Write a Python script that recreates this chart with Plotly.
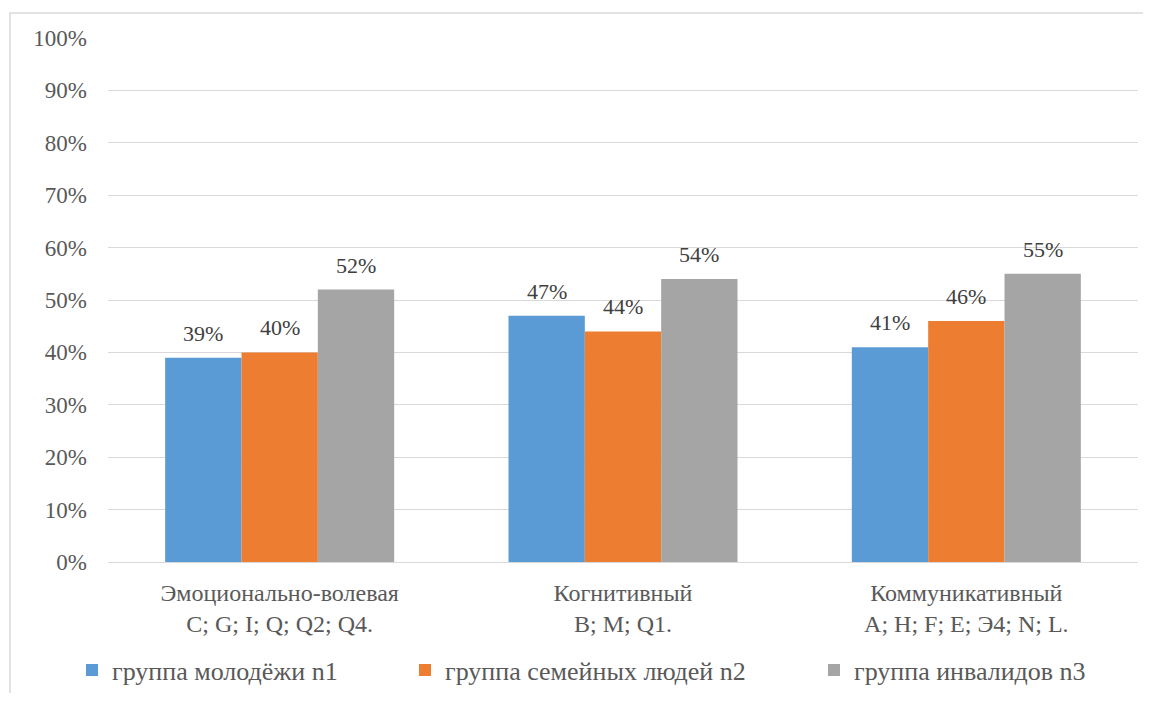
import plotly.graph_objects as go

categories = ["Эмоционально-волевая<br>C; G; I; Q; Q2; Q4.",
              "Когнитивный<br>B; M; Q1.",
              "Коммуникативный<br>A; H; F; E; Э4; N; L."]
series_names = ["группа молодёжи n1", "группа семейных людей n2", "группа инвалидов n3"]
values_n1 = [0.39, 0.47, 0.41]
values_n2 = [0.40, 0.44, 0.46]
values_n3 = [0.52, 0.54, 0.55]
colors = ["#5B9BD5", "#ED7D31", "#A5A5A5"]

OFF = 8  # page body margin
W, H = 1135, 685
ML, MT = 108 - OFF, 38 - OFF
MR = W - (1138 - OFF)
MB = H - (562 - OFF)
BARGAP = 0.333
FONT = "Liberation Serif"

series = [values_n1, values_n2, values_n3]
legends = ["legend", "legend2", "legend3"]

fig = go.Figure()
for i, (name, vals, col) in enumerate(zip(series_names, series, colors)):
    fig.add_trace(go.Bar(
        x=categories, y=vals, name=name, marker=dict(color=col, line=dict(width=0)),
        legend=legends[i], showlegend=True, hoverinfo="skip"))

# data labels above the bars
n = len(series)
bw = (1 - BARGAP) / n
annotations = []
for i, vals in enumerate(series):
    for j, v in enumerate(vals):
        annotations.append(dict(
            x=j + (i - (n - 1) / 2) * bw, y=v, xref="x", yref="y",
            text=f"{round(v*100)}%", showarrow=False, yanchor="bottom",
            yshift=10, font=dict(family=FONT, size=22, color="#404040")))

pw = W - ML - MR
ph = H - MT - MB
# outer chart border (cropped at right and bottom in the reference)
shapes = [dict(type="rect", xref="paper", yref="paper",
               x0=(10 - OFF - ML) / pw, x1=(W + 20 - ML) / pw,
               y0=-(H + 20 - MT - ph) / ph, y1=(H - (13 - OFF) - MB) / ph,
               line=dict(color="#D9D9D9", width=1.5), fillcolor="rgba(0,0,0,0)", layer="below")]

leg_x = [72 - OFF, 405 - OFF, 814 - OFF]
leg_y = 1 - (670 - OFF) / H
leg_common = dict(orientation="h", xref="container", yref="container", yanchor="middle",
                  xanchor="left", y=leg_y, visible=True,
                  font=dict(family=FONT, size=26, color="#595959"),
                  bgcolor="rgba(0,0,0,0)", borderwidth=0, itemclick=False, itemdoubleclick=False)

fig.update_layout(
    width=W, height=H, margin=dict(l=ML, r=MR, t=MT, b=MB),
    paper_bgcolor="white", plot_bgcolor="white", showlegend=True,
    barmode="group", bargap=BARGAP, bargroupgap=0,
    font=dict(family=FONT, color="#595959"),
    xaxis=dict(type="category", showgrid=False, showline=True, linecolor="#D9D9D9", linewidth=1,
               ticks="", tickfont=dict(family=FONT, size=24, color="#595959"),
               ticklabelstandoff=9),
    yaxis=dict(range=[0, 1], dtick=0.1, tickformat=".0%", showgrid=True, gridcolor="#D9D9D9",
               gridwidth=1, zeroline=False, showline=False, ticks="",
               tickfont=dict(family=FONT, size=23, color="#595959"), ticklabelstandoff=20),
    annotations=annotations, shapes=shapes,
    legend=dict(x=leg_x[0] / W, **leg_common),
    legend2=dict(x=leg_x[1] / W, **leg_common),
    legend3=dict(x=leg_x[2] / W, **leg_common),
)

fig.write_html("out.html")
